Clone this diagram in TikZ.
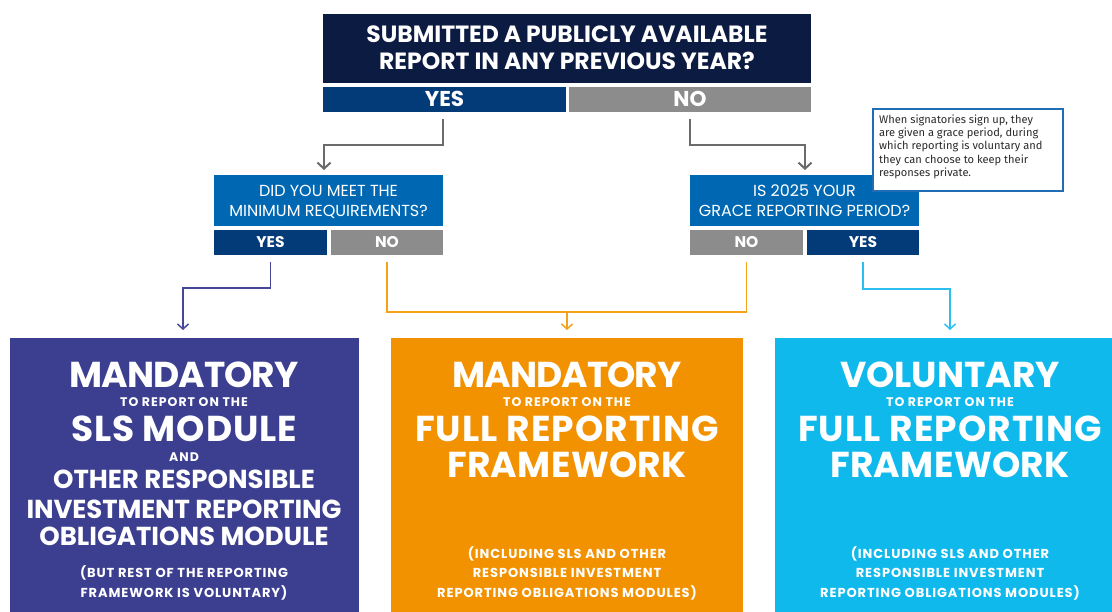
\documentclass[tikz,border=0pt]{standalone}
\usepackage{fontspec}
\setmainfont{Poppins}
\newfontfamily\hd{Poppins}
\newfontfamily\notefont{Fira Sans}
\usetikzlibrary{arrows.meta}
\definecolor{navy}{HTML}{0C1B41}
\definecolor{dblue}{HTML}{033A78}
\definecolor{greyb}{HTML}{8C8C8C}
\definecolor{qblue}{HTML}{0068B3}
\definecolor{purp}{HTML}{3C3F8F}
\definecolor{orng}{HTML}{F39200}
\definecolor{cyanb}{HTML}{10B9EC}
\definecolor{conng}{HTML}{6B6B6B}
\definecolor{connp}{HTML}{45479A}
\definecolor{conno}{HTML}{F5A21B}
\definecolor{connc}{HTML}{2BBFEF}
\definecolor{noteb}{HTML}{1F6DB5}
\definecolor{notet}{HTML}{2A2A2A}
\newcommand{\ls}[1]{\addfontfeature{LetterSpace=#1}}
\begin{document}
\begin{tikzpicture}[x=1pt,y=-1pt,
  blk/.style={rectangle,inner sep=0pt,outer sep=0pt,draw=none},
  txt/.style={inner sep=0pt,anchor=base,text=white},
  big/.style={txt,font=\hd\bfseries\fontsize{36}{36}\selectfont},
  med/.style={txt,font=\hd\bfseries\fontsize{26}{26}\selectfont},
  sml/.style={txt,font=\hd\bfseries\fontsize{12.5}{13}\selectfont\ls{8}},
  par/.style={txt,font=\hd\bfseries\fontsize{13}{13}\selectfont\ls{7}},
  toptxt/.style={txt,font=\hd\bfseries\fontsize{23.5}{24}\selectfont},
  yn/.style={txt,font=\hd\bfseries\fontsize{21.5}{22}\selectfont},
  qtxt/.style={txt,font=\hd\fontsize{16}{16}\selectfont},
  yns/.style={txt,font=\hd\bfseries\fontsize{15.5}{16}\selectfont},
  gconn/.style={draw=conng,line width=2pt,-{Straight Barb[length=6pt,width=13pt,line width=2pt]}},
  bconn/.style={line width=1.5pt},
  btip/.style={-{Straight Barb[length=5pt,width=11pt,line width=1.5pt]}}
]
\clip (0,0) rectangle (1112,612);
\fill[white] (0,0) rectangle (1112,612);

% top question
\node[blk,fill=navy,minimum width=488pt,minimum height=69pt] (top) at (567,48.5) {};
\node[toptxt] (topt1) at (567,43) {SUBMITTED A PUBLICLY AVAILABLE};
\node[toptxt] (topt2) at (567,70) {REPORT IN ANY PREVIOUS YEAR?};
\node[blk,fill=dblue,minimum width=243pt,minimum height=25pt] (yes1) at (444.5,99.5) {};
\node[blk,fill=greyb,minimum width=242pt,minimum height=25pt] (no1) at (690,99.5) {};
\node[yn] (yes1t) at (444.5,107) {YES};
\node[yn] (no1t) at (690,107) {NO};

% second level
\node[blk,fill=qblue,minimum width=229pt,minimum height=51pt] (q2) at (328.5,200.5) {};
\node[qtxt] (q2t1) at (328.5,197) {DID YOU MEET THE};
\node[qtxt] (q2t2) at (328.5,217) {MINIMUM REQUIREMENTS?};
\node[blk,fill=dblue,minimum width=113pt,minimum height=25pt] (yes2) at (270.5,242.5) {};
\node[blk,fill=greyb,minimum width=112pt,minimum height=25pt] (no2) at (387,242.5) {};
\node[yns] (yes2t) at (270.5,248) {YES};
\node[yns] (no2t) at (387,248) {NO};

\node[blk,fill=qblue,minimum width=229pt,minimum height=51pt] (q3) at (804.5,200.5) {};
\node[qtxt] (q3t1) at (804.5,197) {IS 2025 YOUR};
\node[qtxt] (q3t2) at (804.5,217) {GRACE REPORTING PERIOD?};
\node[blk,fill=greyb,minimum width=113pt,minimum height=25pt] (no3) at (746.5,242.5) {};
\node[blk,fill=dblue,minimum width=112pt,minimum height=25pt] (yes3) at (863,242.5) {};
\node[yns] (no3t) at (746.5,248) {NO};
\node[yns] (yes3t) at (863,248) {YES};

% note
\node[blk,fill=white,draw=noteb,line width=1.6pt,minimum width=190pt,minimum height=82pt] (note) at (968,150) {};
\node[inner sep=0pt,anchor=north west,align=left,text=notet,
      font=\notefont\fontsize{11.1}{13.3}\selectfont] (notet) at (879,114.5)
 {When signatories sign up, they\\are given a grace period, during\\which reporting is voluntary and\\they can choose to keep their\\responses private.};

% outcome boxes
\node[blk,fill=purp,minimum width=349pt,minimum height=274pt] (pbox) at (184.5,475) {};
\node[blk,fill=orng,minimum width=352pt,minimum height=274pt] (obox) at (567,475) {};
\node[blk,fill=cyanb,minimum width=350pt,minimum height=274pt] (cbox) at (950,475) {};

% purple text
\node[big] (p1) at (184,388) {\ls{-2.8}MANDATORY};
\node[sml] (p2) at (184,407) {TO REPORT ON THE};
\node[big] (p3) at (184,442) {\ls{2.5}SLS MODULE};
\node[sml] (p4) at (184,461) {AND};
\node[med] (p5) at (184,489) {OTHER RESPONSIBLE};
\node[med] (p6) at (184,518) {\ls{-0.5}INVESTMENT REPORTING};
\node[med] (p7) at (184,545) {OBLIGATIONS MODULE};
\node[par] (p8) at (184,577) {(BUT REST OF THE REPORTING};
\node[par] (p9) at (184,597) {FRAMEWORK IS VOLUNTARY)};

% orange text
\node[big] (o1) at (567,388) {\ls{-2.8}MANDATORY};
\node[sml] (o2) at (567,407) {TO REPORT ON THE};
\node[big] (o3) at (567,442) {\ls{3}FULL REPORTING};
\node[big] (o4) at (567,477) {\ls{1}FRAMEWORK};
\node[par] (o5) at (567,558) {(INCLUDING SLS AND OTHER};
\node[par] (o6) at (567,577) {RESPONSIBLE INVESTMENT};
\node[par] (o7) at (567,597) {REPORTING OBLIGATIONS MODULES)};

% cyan text
\node[big] (c1) at (950,388) {VOLUNTARY};
\node[sml] (c2) at (950,407) {TO REPORT ON THE};
\node[big] (c3) at (950,442) {\ls{3}FULL REPORTING};
\node[big] (c4) at (950,477) {\ls{1}FRAMEWORK};
\node[par] (c5) at (950,558) {(INCLUDING SLS AND OTHER};
\node[par] (c6) at (950,577) {RESPONSIBLE INVESTMENT};
\node[par] (c7) at (950,597) {REPORTING OBLIGATIONS MODULES)};

% connectors top
\draw[gconn] ([xshift=-1.5pt,yshift=-7pt]yes1.south) |- ([xshift=-4.5pt,yshift=30pt]q2.north) -- ([xshift=-4.5pt,yshift=5pt]q2.north);
\draw[gconn] ([yshift=-7pt]no1.south) |- ([xshift=0.5pt,yshift=30pt]q3.north) -- ([xshift=0.5pt,yshift=5pt]q3.north);

% connectors bottom
\draw[bconn,draw=connp,btip]
  ([yshift=-7pt]yes2.south) |- ([xshift=-1.5pt,yshift=50pt]pbox.north) -- ([xshift=-1.5pt,yshift=8pt]pbox.north);
\draw[bconn,draw=conno] ([yshift=-7pt]no2.south) |- ([yshift=26pt]obox.north) -| ([yshift=-7pt]no3.south);
\draw[bconn,draw=conno,btip] ([yshift=26pt]obox.north) -- ([yshift=8pt]obox.north);
\draw[bconn,draw=connc,btip]
  ([yshift=-7pt]yes3.south) |- ([yshift=49pt]cbox.north) -- ([yshift=8pt]cbox.north);
\end{tikzpicture}
\end{document}
